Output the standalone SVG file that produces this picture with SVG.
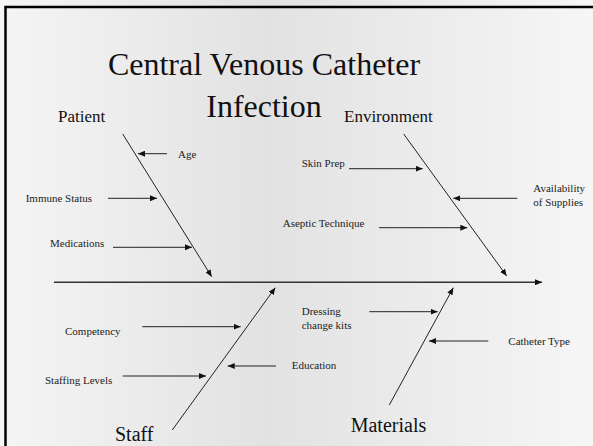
<svg xmlns="http://www.w3.org/2000/svg" width="593" height="446" viewBox="0 0 593 446">
<defs>
<linearGradient id="bg" x1="0" y1="0" x2="1" y2="0">
<stop offset="0" stop-color="#f5f5f5"/>
<stop offset="0.45" stop-color="#e2e2e2"/>
<stop offset="1" stop-color="#f6f6f6"/>
</linearGradient>
<marker id="ah" markerUnits="userSpaceOnUse" markerWidth="8" markerHeight="6" refX="7" refY="3" orient="auto">
<path d="M0,0 L7,3 L0,6 Z" fill="#111"/>
</marker>
</defs>
<style>
.t{font-family:"Liberation Serif","Times New Roman",serif;fill:#111}
.title{font-size:32px;text-anchor:middle}
.cat{font-size:17px}
.catb{font-size:20px}
.c{font-size:11px;fill:#222}
.ln{stroke:#222;stroke-width:1;fill:none}
.ar{stroke:#222;stroke-width:1;fill:none;marker-end:url(#ah)}
.sp{stroke:#333;stroke-width:1.4;fill:none;marker-end:url(#ah)}
</style>
<rect x="0" y="0" width="593" height="446" fill="url(#bg)"/>
<path d="M5.5,446 V7 H593" fill="none" stroke="#000" stroke-width="2.5"/>
<g id="title">
<text class="t title" x="264" y="75">Central Venous Catheter</text>
<text class="t title" x="264" y="117">Infection</text>
</g>
<g id="connectors">
<line class="sp" x1="54" y1="282.3" x2="542" y2="282.3"/>
<line class="ar" x1="122.7" y1="134" x2="211.7" y2="276.7"/>
<line class="ar" x1="403.7" y1="134" x2="506.7" y2="276"/>
<line class="ar" x1="172.3" y1="430" x2="275.3" y2="287.7"/>
<line class="ar" x1="389.3" y1="405" x2="453.3" y2="287.7"/>
<line class="ar" x1="167" y1="153.7" x2="138" y2="153.7"/>
<line class="ar" x1="108" y1="198.3" x2="157" y2="198.3"/>
<line class="ar" x1="113" y1="247.3" x2="192" y2="247.3"/>
<line class="ar" x1="349" y1="168.7" x2="422.7" y2="168.7"/>
<line class="ar" x1="517.3" y1="198.3" x2="453.3" y2="198.3"/>
<line class="ar" x1="379" y1="227.7" x2="467.3" y2="227.7"/>
<line class="ar" x1="142.3" y1="326.7" x2="240.7" y2="326.7"/>
<line class="ar" x1="122.7" y1="376" x2="206" y2="376"/>
<line class="ar" x1="276" y1="366" x2="227.7" y2="366"/>
<line class="ar" x1="369.3" y1="311.7" x2="437.7" y2="311.7"/>
<line class="ar" x1="488.3" y1="341" x2="429" y2="341"/>
</g>
<g id="patient"><text class="t cat" x="58" y="122">Patient</text></g>
<g id="environment"><text class="t cat" x="344" y="122">Environment</text></g>
<g id="staff"><text class="t catb" x="115" y="441">Staff</text></g>
<g id="materials"><text class="t catb" x="350.7" y="431.7">Materials</text></g>
<g id="age"><text class="t c" x="178" y="157.5">Age</text></g>
<g id="immune"><text class="t c" x="25.7" y="202">Immune Status</text></g>
<g id="medications"><text class="t c" x="50" y="246.7">Medications</text></g>
<g id="skinprep"><text class="t c" x="301.7" y="166.7">Skin Prep</text></g>
<g id="availability"><text class="t c" x="533.3" y="192.3">Availability</text><text class="t c" x="533.3" y="206">of Supplies</text></g>
<g id="aseptic"><text class="t c" x="282.7" y="226.7">Aseptic Technique</text></g>
<g id="competency"><text class="t c" x="65" y="335">Competency</text></g>
<g id="staffing"><text class="t c" x="45" y="384.3">Staffing Levels</text></g>
<g id="education"><text class="t c" x="291.7" y="369.3">Education</text></g>
<g id="dressing"><text class="t c" x="301.7" y="315">Dressing</text><text class="t c" x="301.7" y="329">change kits</text></g>
<g id="cathetertype"><text class="t c" x="508.3" y="345">Catheter Type</text></g>
</svg>
